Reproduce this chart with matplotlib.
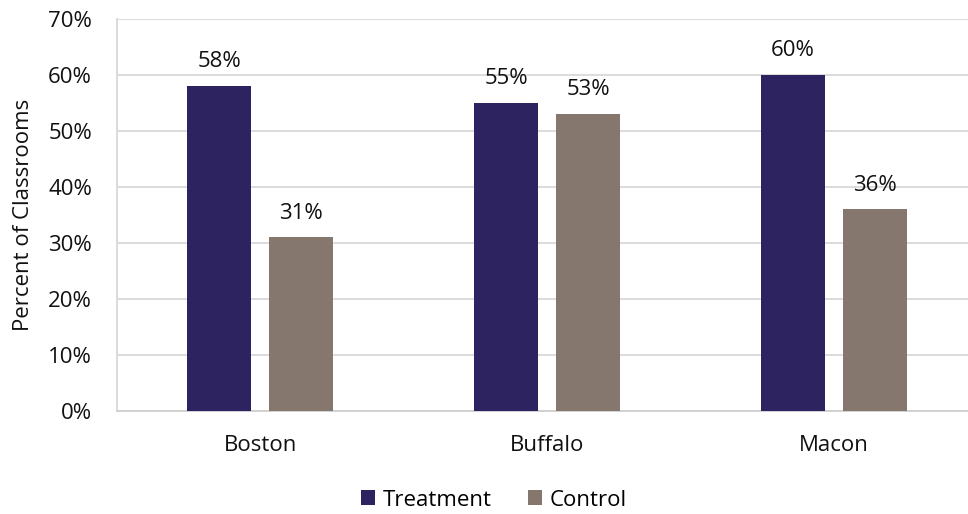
import matplotlib
matplotlib.use("Agg")
import matplotlib.pyplot as plt
import numpy as np

cities = ["Boston", "Buffalo", "Macon"]
treatment = [58, 55, 60]
control = [31, 53, 36]
yticks = [0, 10, 20, 30, 40, 50, 60, 70]

plt.rcParams['font.family'] = ['Open Sans', 'DejaVu Sans']

fig = plt.figure(figsize=(9.68, 5.14), dpi=100)
ax = fig.add_axes([117/968, 1 - 411/514, 860/968, 392/514])

x = np.arange(len(cities))
w = 0.223
off = 0.143
c_t = "#2D2360"
c_c = "#85776E"
b1 = ax.bar(x - off, treatment, w, color=c_t, label="Treatment", zorder=3)
b2 = ax.bar(x + off, control, w, color=c_c, label="Control", zorder=3)

for bars, vals in ((b1, treatment), (b2, control)):
    for b, v in zip(bars, vals):
        ax.annotate(f"{v}%", (b.get_x() + b.get_width() / 2, v),
                    xytext=(0, 10), textcoords="offset points",
                    ha="center", va="bottom", fontsize=16, color="#111111")

ax.set_xlim(-0.5, 2.5)
ax.set_ylim(0, 70)
ax.set_yticks(yticks)
ax.set_yticklabels([f"{t}%" for t in yticks])
ax.set_xticks(x)
ax.set_xticklabels(cities)
ax.tick_params(axis="both", length=0, labelsize=16, colors="#111111")
ax.tick_params(axis="y", pad=18)
ax.tick_params(axis="x", pad=17)
ax.yaxis.grid(True, color="#D9D9D9", linewidth=1.3, zorder=0)
for s in ("top", "right"):
    ax.spines[s].set_visible(False)
ax.spines["left"].set_color("#D9D9D9")
ax.spines["left"].set_linewidth(1.3)
ax.spines["bottom"].set_color("#CFCFCF")
ax.spines["bottom"].set_linewidth(1.3)
ax.set_ylabel("Percent of Classrooms", fontsize=16, color="#111111", labelpad=10)

fig.legend(handles=[b1, b2], loc="center", bbox_to_anchor=(494/968, 1 - 500/514),
           ncol=2, frameon=False, fontsize=16, handlelength=0.65, handleheight=0.65,
           handletextpad=0.35, columnspacing=1.6)

fig.savefig("out.png", dpi=100)
